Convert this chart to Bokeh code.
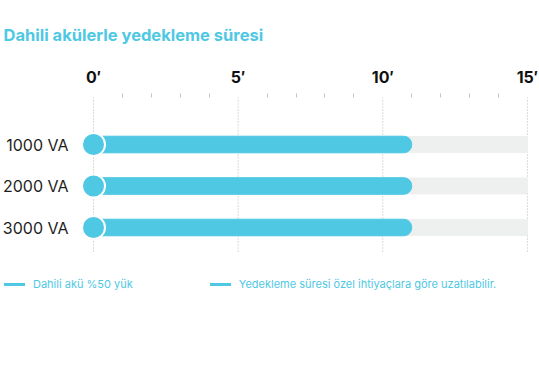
from bokeh.plotting import figure
from bokeh.models import Range1d, FixedTicker, Legend, LegendItem, ColumnDataSource
from bokeh.core.properties import value
from bokeh.embed import file_html
from bokeh.resources import INLINE

title_text = "Dahili akülerle yedekleme süresi"
categories = ["1000 VA", "2000 VA", "3000 VA"]
backup_minutes = [11, 11, 11]
scale_max = 15
major_ticks = [0, 5, 10, 15]
minor_ticks = [1, 2, 3, 4, 6, 7, 8, 9, 11, 12, 13, 14]
tick_labels = ["0′", "5′", "10′", "15′"]
legend_labels = ["Dahili akü %50 yük",
                 "Yedekleme süresi özel ihtiyaçlara göre uzatılabilir."]

BLUE = "#4fc8e3"
GRAY = "#eeefef"
FONT = "Inter"

rows = list(range(len(categories)))
src = ColumnDataSource(dict(
    y=rows, value=backup_minutes,
    zero=[0] * len(rows), full=[scale_max] * len(rows), cat=categories))

p = figure(width=539, height=382, output_backend="svg", toolbar_location=None,
           x_range=Range1d(-3.215, 15.417), y_range=Range1d(5.735, -1.133),
           x_axis_location="above", y_axis_location=None,
           min_border_left=0, min_border_right=0, min_border_top=97,
           min_border_bottom=0)
p.outline_line_color = None
p.xgrid.visible = False
p.ygrid.visible = False

# dotted guide lines at the major ticks, spanning the rows
grid_src = ColumnDataSource(dict(
    x=major_ticks,
    y0=[rows[0] - 1.133] * len(major_ticks),
    y1=[rows[-1] + 0.602] * len(major_ticks)))
p.segment(x0="x", x1="x", y0="y0", y1="y1", line_color="#b5b5b5",
          line_dash="1 2", line_width=1, source=grid_src)

# bars
p.hbar(y="y", left="zero", right="full", height=0.386, color=GRAY, source=src)
p.hbar(y="y", left="zero", right="value", height=0.40, color=BLUE,
       border_radius=8, source=src)
p.scatter(x="zero", y="y", size=23, fill_color=BLUE, line_color="white",
          line_width=2, source=src)

# category labels
p.text(x="zero", y="y", text="cat", source=src, x_offset=-25,
       text_align="right", text_baseline="middle",
       text_font=value(FONT), text_font_size="16px", text_color="#1e1e1e")

# x axis
xa = p.xaxis[0]
xa.ticker = FixedTicker(ticks=major_ticks, minor_ticks=minor_ticks)
xa.major_label_overrides = {t: l for t, l in zip(major_ticks, tick_labels)}
xa.axis_line_color = None
xa.major_tick_line_color = None
xa.major_tick_out = 0
xa.major_tick_in = 0
xa.minor_tick_out = 4
xa.minor_tick_in = 0
xa.minor_tick_line_color = "#c4c4c4"
xa.major_label_text_font = FONT
xa.major_label_text_font_style = "bold"
xa.major_label_text_font_size = "16px"
xa.major_label_text_color = "#111111"
xa.major_label_standoff = 7

# title
p.title.text = title_text
p.title.text_font = FONT
p.title.text_font_size = "16.5px"
p.title.text_font_style = "bold"
p.title.text_color = BLUE
p.title.align = "left"
p.title.offset = 3
p.title.standoff = 38

# legend
nan = float("nan")
r1 = p.line(x=[nan], y=[nan], line_color=BLUE, line_width=3, line_cap="round")
r2 = p.line(x=[nan], y=[nan], line_color=BLUE, line_width=3, line_cap="round")
legend = Legend(items=[LegendItem(label=legend_labels[0], renderers=[r1]),
                       LegendItem(label=legend_labels[1], renderers=[r2])],
                orientation="horizontal", location=(4, 91),
                border_line_color=None, background_fill_alpha=0,
                label_text_font=FONT, label_text_font_size="11px",
                label_text_color=BLUE, glyph_width=21, glyph_height=12,
                label_standoff=8, spacing=77, padding=0, margin=0)
p.add_layout(legend, "center")

open("out.html", "w").write(file_html(p, INLINE))
